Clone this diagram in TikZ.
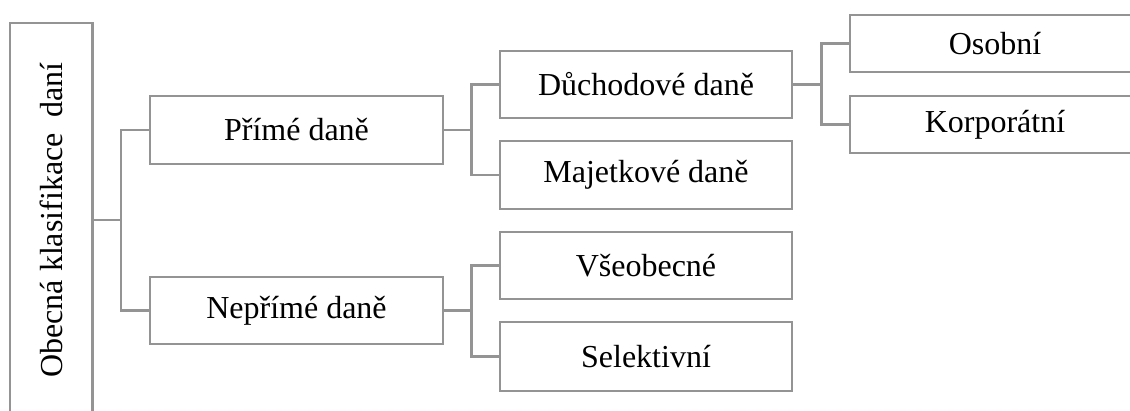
\documentclass[tikz,border=0pt]{standalone}
\usepackage{fontspec}
\setmainfont{Liberation Serif}
\definecolor{linegray}{RGB}{148,148,148}
\begin{document}
\begin{tikzpicture}[x=1pt,y=-1pt,
  box/.style={draw=linegray, line width=2.8pt, rectangle, inner sep=0pt, outer sep=0pt,
    font=\fontsize{32}{36}\selectfont, text=black},
  conn/.style={draw=linegray, line width=2.8pt}]
\useasboundingbox (0,0) rectangle (1130,410);
\clip (0,0) rectangle (1130,410);
\node[box, rotate=90, minimum width=394pt, minimum height=82.5pt] (root) at (51.25,220) {Obecná klasifikace\ \ daní};
\node[box, minimum width=293pt, minimum height=68pt] (prime) at (296.5,130) {Přímé daně};
\node[box, minimum width=293pt, minimum height=67pt] (neprime) at (296.5,310.5) {Nepřímé daně};
\node[box, minimum width=292pt, minimum height=67pt] (duch) at (646,84.5) {Důchodové daně};
\node[box, minimum width=292pt, minimum height=68pt] (maj) at (646,175) {Majetkové daně};
\node[box, minimum width=292pt, minimum height=67pt] (vseo) at (646,265.5) {Všeobecné};
\node[box, minimum width=292pt, minimum height=69pt] (sel) at (646,356.5) {Selektivní};
\node[box, minimum width=290pt, minimum height=57pt] (osob) at (995,43.5) {Osobní};
\node[box, minimum width=290pt, minimum height=57pt] (korp) at (995,124.5) {Korporátní};
\coordinate (j1) at (121,220);
\coordinate (j2) at (471.5,130);
\coordinate (j3) at (471.5,310.5);
\coordinate (j4) at (821.5,84.5);
\draw[conn] (root.south) -- (j1);
\draw[conn] (prime.west) -| (j1) |- (neprime.west);
\draw[conn] (prime.east) -- (j2);
\draw[conn] (duch.west) -| (j2) |- (maj.west);
\draw[conn] (neprime.east) -- (j3);
\draw[conn] (vseo.west) -| (j3) |- (sel.west);
\draw[conn] (duch.east) -- (j4);
\draw[conn] (osob.west) -| (j4) |- (korp.west);
\end{tikzpicture}
\end{document}
